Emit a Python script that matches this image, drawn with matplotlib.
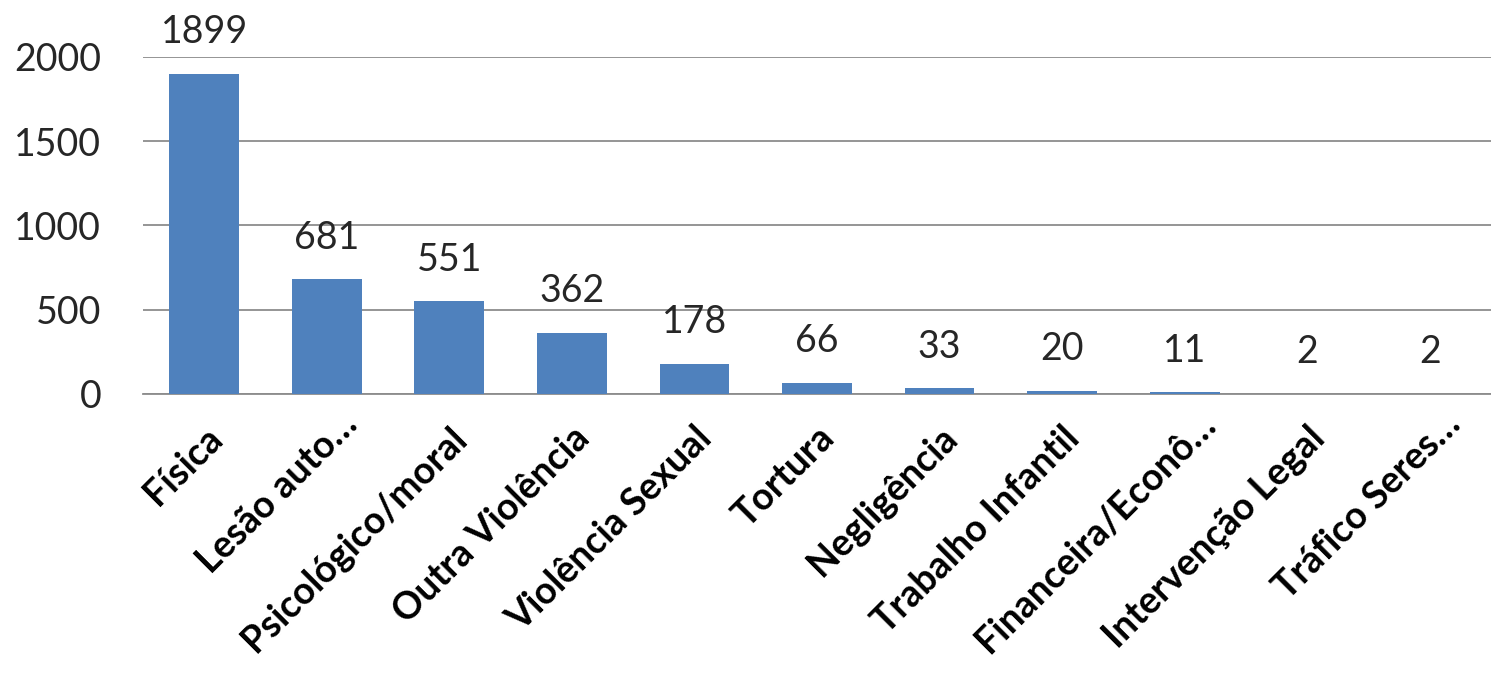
import matplotlib
matplotlib.use("Agg")
import matplotlib.pyplot as plt
from matplotlib.transforms import ScaledTranslation

categories = ["Física", "Lesão auto…", "Psicológico/moral", "Outra Violência",
              "Violência Sexual", "Tortura", "Negligência", "Trabalho Infantil",
              "Financeira/Econô…", "Intervenção Legal", "Tráfico Seres…"]
values = [1899, 681, 551, 362, 178, 66, 33, 20, 11, 2, 2]
yticks = [0, 500, 1000, 1500, 2000]

plt.rcParams['font.family'] = ['Lato', 'DejaVu Sans']

fig = plt.figure(figsize=(14.91, 6.75), dpi=100)
ax = fig.add_axes([0.0959, 0.4163, 0.9041, 0.4993])

x = list(range(len(categories)))
ax.bar(x, values, width=0.57, color="#4F81BD", zorder=3)
ax.set_xlim(-0.5, len(categories) - 0.5)
ax.set_ylim(0, 2000)
ax.set_yticks(yticks)
ax.set_yticklabels([str(t) for t in yticks], fontsize=27, color="#262626")
ax.yaxis.grid(True, color="#8C8C8C", linewidth=1.3, zorder=0)
ax.set_axisbelow(True)
ax.tick_params(axis='y', length=0, pad=30)
for s in ["top", "right", "left"]:
    ax.spines[s].set_visible(False)
ax.spines["bottom"].set_color("#8C8C8C")
ax.spines["bottom"].set_linewidth(1.3)

ax.set_xticks(x)
ax.set_xticklabels(categories, rotation=45, ha="right", rotation_mode="anchor",
                   fontsize=27, fontweight="bold", color="#000000")
ax.tick_params(axis='x', length=0, pad=19)

# truncated labels sit a little further along their direction (up-right)
shift = ScaledTranslation(0.13, 0.14, fig.dpi_scale_trans)
for lab in ax.get_xticklabels():
    if lab.get_text().endswith("…"):
        lab.set_transform(lab.get_transform() + shift)

for xi, v in zip(x, values):
    ax.annotate(str(v), (xi, v), xytext=(0, 22), textcoords="offset points",
                ha="center", va="baseline", fontsize=27, color="#262626",
                annotation_clip=False)

fig.savefig("out.png", dpi=100)
